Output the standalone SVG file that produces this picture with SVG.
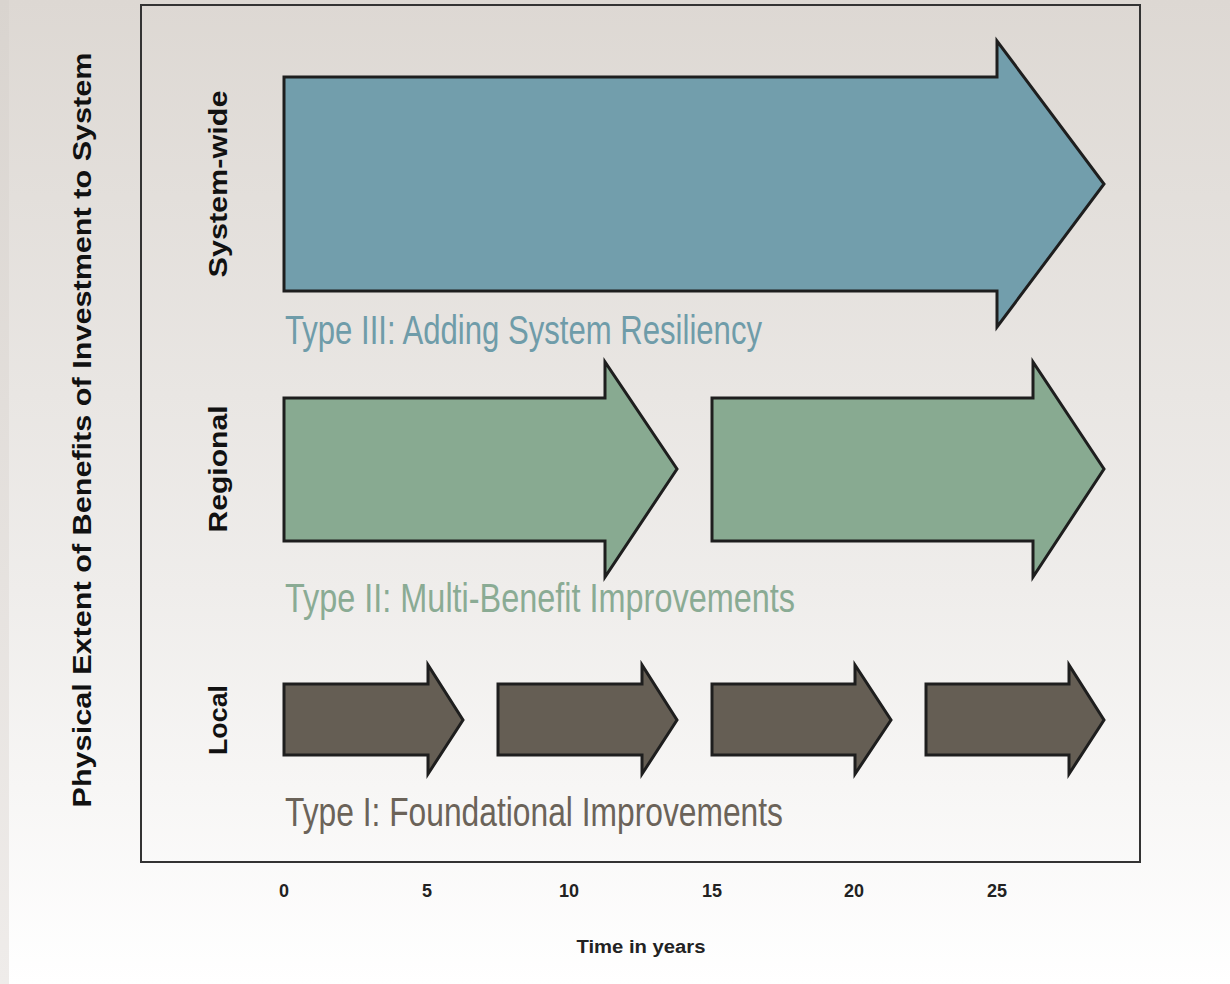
<svg xmlns="http://www.w3.org/2000/svg" width="1230" height="984" viewBox="0 0 1230 984">
<defs>
<linearGradient id="bg" x1="0" y1="0" x2="0" y2="1">
<stop offset="0" stop-color="#ddd8d3"/>
<stop offset="0.6" stop-color="#efedeb"/>
<stop offset="1" stop-color="#ffffff"/>
</linearGradient>
<linearGradient id="strip" x1="0" y1="0" x2="0" y2="1">
<stop offset="0" stop-color="#d9d4cf"/>
<stop offset="1" stop-color="#efecea"/>
</linearGradient>
</defs>
<style>
.arrow{stroke:#1e1e1e;stroke-width:3;stroke-linejoin:miter}
.t3{fill:#729eac}
.t2{fill:#88aa91}
.t1{fill:#655e54}
.type{font-family:"Liberation Sans",Arial,sans-serif;font-size:41px}
.row{font-family:"Liberation Sans",Arial,sans-serif;font-weight:bold;font-size:26px;fill:#111}
.tick{font-family:"Liberation Sans",Arial,sans-serif;font-weight:bold;font-size:18px;fill:#222;text-anchor:middle}
</style>
<rect x="0" y="0" width="1230" height="984" fill="url(#bg)"/>
<rect x="0" y="0" width="9" height="984" fill="url(#strip)"/>
<rect id="frame" x="141" y="5" width="999" height="857" fill="none" stroke="#333" stroke-width="2"/>
<text class="row" transform="translate(91,430) rotate(-90)" text-anchor="middle" font-size="29" textLength="755" lengthAdjust="spacingAndGlyphs">Physical Extent of Benefits of Investment to System</text>
<text class="row" transform="translate(227,184) rotate(-90)" text-anchor="middle" textLength="187" lengthAdjust="spacingAndGlyphs">System-wide</text>
<text class="row" transform="translate(227,469) rotate(-90)" text-anchor="middle" textLength="127" lengthAdjust="spacingAndGlyphs">Regional</text>
<text class="row" transform="translate(227,720) rotate(-90)" text-anchor="middle" textLength="70" lengthAdjust="spacingAndGlyphs">Local</text>
<g id="type3">
<polygon class="arrow t3" points="284,77 997,77 997,41 1104,184 997,327 997,291 284,291"/>
<text class="type" x="285" y="344" fill="#6f9ca9" textLength="477" lengthAdjust="spacingAndGlyphs">Type III: Adding System Resiliency</text>
</g>
<g id="type2">
<polygon class="arrow t2" points="284,398 605,398 605,362 677,469 605,577 605,541 284,541"/>
<polygon class="arrow t2" points="712,398 1033,398 1033,362 1104,469 1033,577 1033,541 712,541"/>
<text class="type" x="285" y="612" fill="#8aab94" textLength="510" lengthAdjust="spacingAndGlyphs">Type II: Multi-Benefit Improvements</text>
</g>
<g id="type1">
<polygon class="arrow t1" points="284,684 428,684 428,665 463,720 428,774 428,755 284,755"/>
<polygon class="arrow t1" points="498,684 642,684 642,665 677,720 642,774 642,755 498,755"/>
<polygon class="arrow t1" points="712,684 855,684 855,665 891,720 855,774 855,755 712,755"/>
<polygon class="arrow t1" points="926,684 1069,684 1069,665 1104,720 1069,774 1069,755 926,755"/>
<text class="type" x="285" y="826" fill="#6b6359" textLength="498" lengthAdjust="spacingAndGlyphs">Type I: Foundational Improvements</text>
</g>
<g id="axis">
<text class="tick" x="284" y="897">0</text>
<text class="tick" x="427" y="897">5</text>
<text class="tick" x="569" y="897">10</text>
<text class="tick" x="712" y="897">15</text>
<text class="tick" x="854" y="897">20</text>
<text class="tick" x="997" y="897">25</text>
<text class="tick" x="641" y="953" font-size="19" textLength="129" lengthAdjust="spacingAndGlyphs">Time in years</text>
</g>
</svg>
